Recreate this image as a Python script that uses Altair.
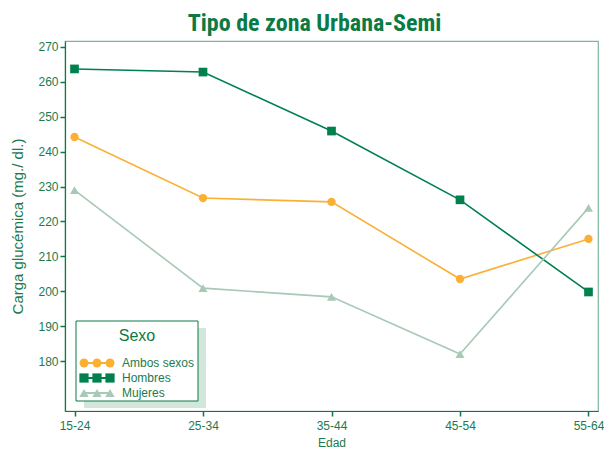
import altair as alt
import pandas as pd

edades = ["15-24", "25-34", "35-44", "45-54", "55-64"]
series = ["Ambos sexos", "Hombres", "Mujeres"]
ambos = [244.2, 226.7, 225.6, 203.5, 215.0]
hombres = [263.7, 262.8, 245.9, 226.2, 199.8]
mujeres = [229.0, 200.9, 198.4, 182.0, 223.9]
y_ticks = [180, 190, 200, 210, 220, 230, 240, 250, 260, 270]

colores = ["#fbb034", "#00804f", "#a7c9b6"]
formas = ["circle", "square", "triangle-up"]
tamanos = [70, 81, 110]
GREEN = "#0b7a45"
TXT = "#1d7a4e"

rows = []
for s, vals in zip(series, [ambos, hombres, mujeres]):
    for e, v in zip(edades, vals):
        rows.append({"Edad": e, "valor": v, "Sexo": s})
df = pd.DataFrame(rows)

xenc = alt.X("Edad:O", sort=edades, scale=alt.Scale(type="point", padding=0.074),
             axis=alt.Axis(title="Edad", labelAngle=0, titlePadding=6, labelPadding=4))
yenc = alt.Y("valor:Q", scale=alt.Scale(domain=[165.7, 271.7], nice=False, zero=False),
             axis=alt.Axis(title="Carga glucémica (mg./ dl.)", values=y_ticks, grid=False,
                           titleFontSize=15, titlePadding=12))
col = alt.Color("Sexo:N", scale=alt.Scale(domain=series, range=colores), legend=None)

lines = alt.Chart(df).mark_line(strokeWidth=1.6).encode(x=xenc, y=yenc, color=col)
pts = alt.Chart(df).mark_point(filled=True, opacity=1).encode(
    x=xenc, y=yenc, color=col,
    shape=alt.Shape("Sexo:N", scale=alt.Scale(domain=series, range=formas), legend=None),
    size=alt.Size("Sexo:N", scale=alt.Scale(domain=series, range=tamanos), legend=None),
)
data_layer = alt.layer(lines, pts)

# manual legend
leg_rows = []
for i, s in enumerate(series):
    for k in range(3):
        leg_rows.append({"Sexo": s, "fila": i, "k": k})
leg_df = pd.DataFrame(leg_rows)
lab_df = pd.DataFrame({"Sexo": series, "fila": [0, 1, 2]})

lx = alt.X("k:Q", scale=alt.Scale(domain=[0, 2], range=[19, 45]), axis=None)
ly = alt.Y("fila:Q", scale=alt.Scale(domain=[0, 2], range=[322, 352]), axis=None)
lcol = alt.Color("Sexo:N", scale=alt.Scale(domain=series, range=colores), legend=None)

shadow = alt.Chart(pd.DataFrame({"a": [0]})).mark_rect(color="#d3e6db").encode(
    x=alt.value(19), x2=alt.value(141), y=alt.value(287), y2=alt.value(367))
box = alt.Chart(pd.DataFrame({"a": [0]})).mark_rect(
    fill="white", stroke=GREEN, strokeWidth=1).encode(
    x=alt.value(11), x2=alt.value(133), y=alt.value(280), y2=alt.value(360))
ltitle = alt.Chart(pd.DataFrame({"t": ["Sexo"]})).mark_text(
    fontSize=16, color=GREEN, font="Liberation Sans").encode(
    text="t:N", x=alt.value(72), y=alt.value(295))
lline = alt.Chart(leg_df).mark_line(strokeWidth=2).encode(
    x=lx, y=ly, color=lcol, detail="Sexo:N")
lpts = alt.Chart(leg_df).mark_point(filled=True, opacity=1).encode(
    x=lx, y=ly, color=lcol,
    shape=alt.Shape("Sexo:N", scale=alt.Scale(domain=series, range=formas), legend=None),
    size=alt.Size("Sexo:N", scale=alt.Scale(domain=series, range=[80, 90, 120]), legend=None),
)
ltext = alt.Chart(lab_df).mark_text(align="left", fontSize=12, color=TXT,
                                    font="Liberation Sans").encode(
    x=alt.value(57),
    y=alt.Y("fila:Q", scale=alt.Scale(domain=[0, 2], range=[322, 352]), axis=None),
    text="Sexo:N")
legend_layer = alt.layer(shadow, box, ltitle, lline, lpts, ltext).resolve_scale(
    x="shared", y="shared")

chart = alt.layer(data_layer, legend_layer).resolve_scale(
    x="independent", y="independent", color="independent", shape="independent",
    size="independent").properties(
    width=533, height=370,
    autosize=alt.AutoSizeParams(type="none"),
    padding={"left": 57, "top": 33, "right": 6, "bottom": 40},
    title=alt.TitleParams("Tipo de zona Urbana-Semi", fontSize=24, fontWeight="bold",
                          font="'Roboto Condensed', 'DejaVu Sans Condensed', 'Liberation Sans Narrow', 'Liberation Sans', sans-serif",
                          color=GREEN, anchor="middle", dx=-17, offset=5),
).configure_view(stroke="#7fb59a", strokeWidth=1.2).configure_axis(
    labelFont="Liberation Sans", titleFont="Liberation Sans", labelColor=TXT,
    titleColor=TXT, labelFontSize=12, titleFontSize=12, titleFontWeight="normal",
    domainColor=GREEN, tickColor=GREEN, tickSize=5, domainWidth=1.2, tickWidth=1.5)

chart.save("out.html", embed_options={"renderer": "svg", "actions": False})
